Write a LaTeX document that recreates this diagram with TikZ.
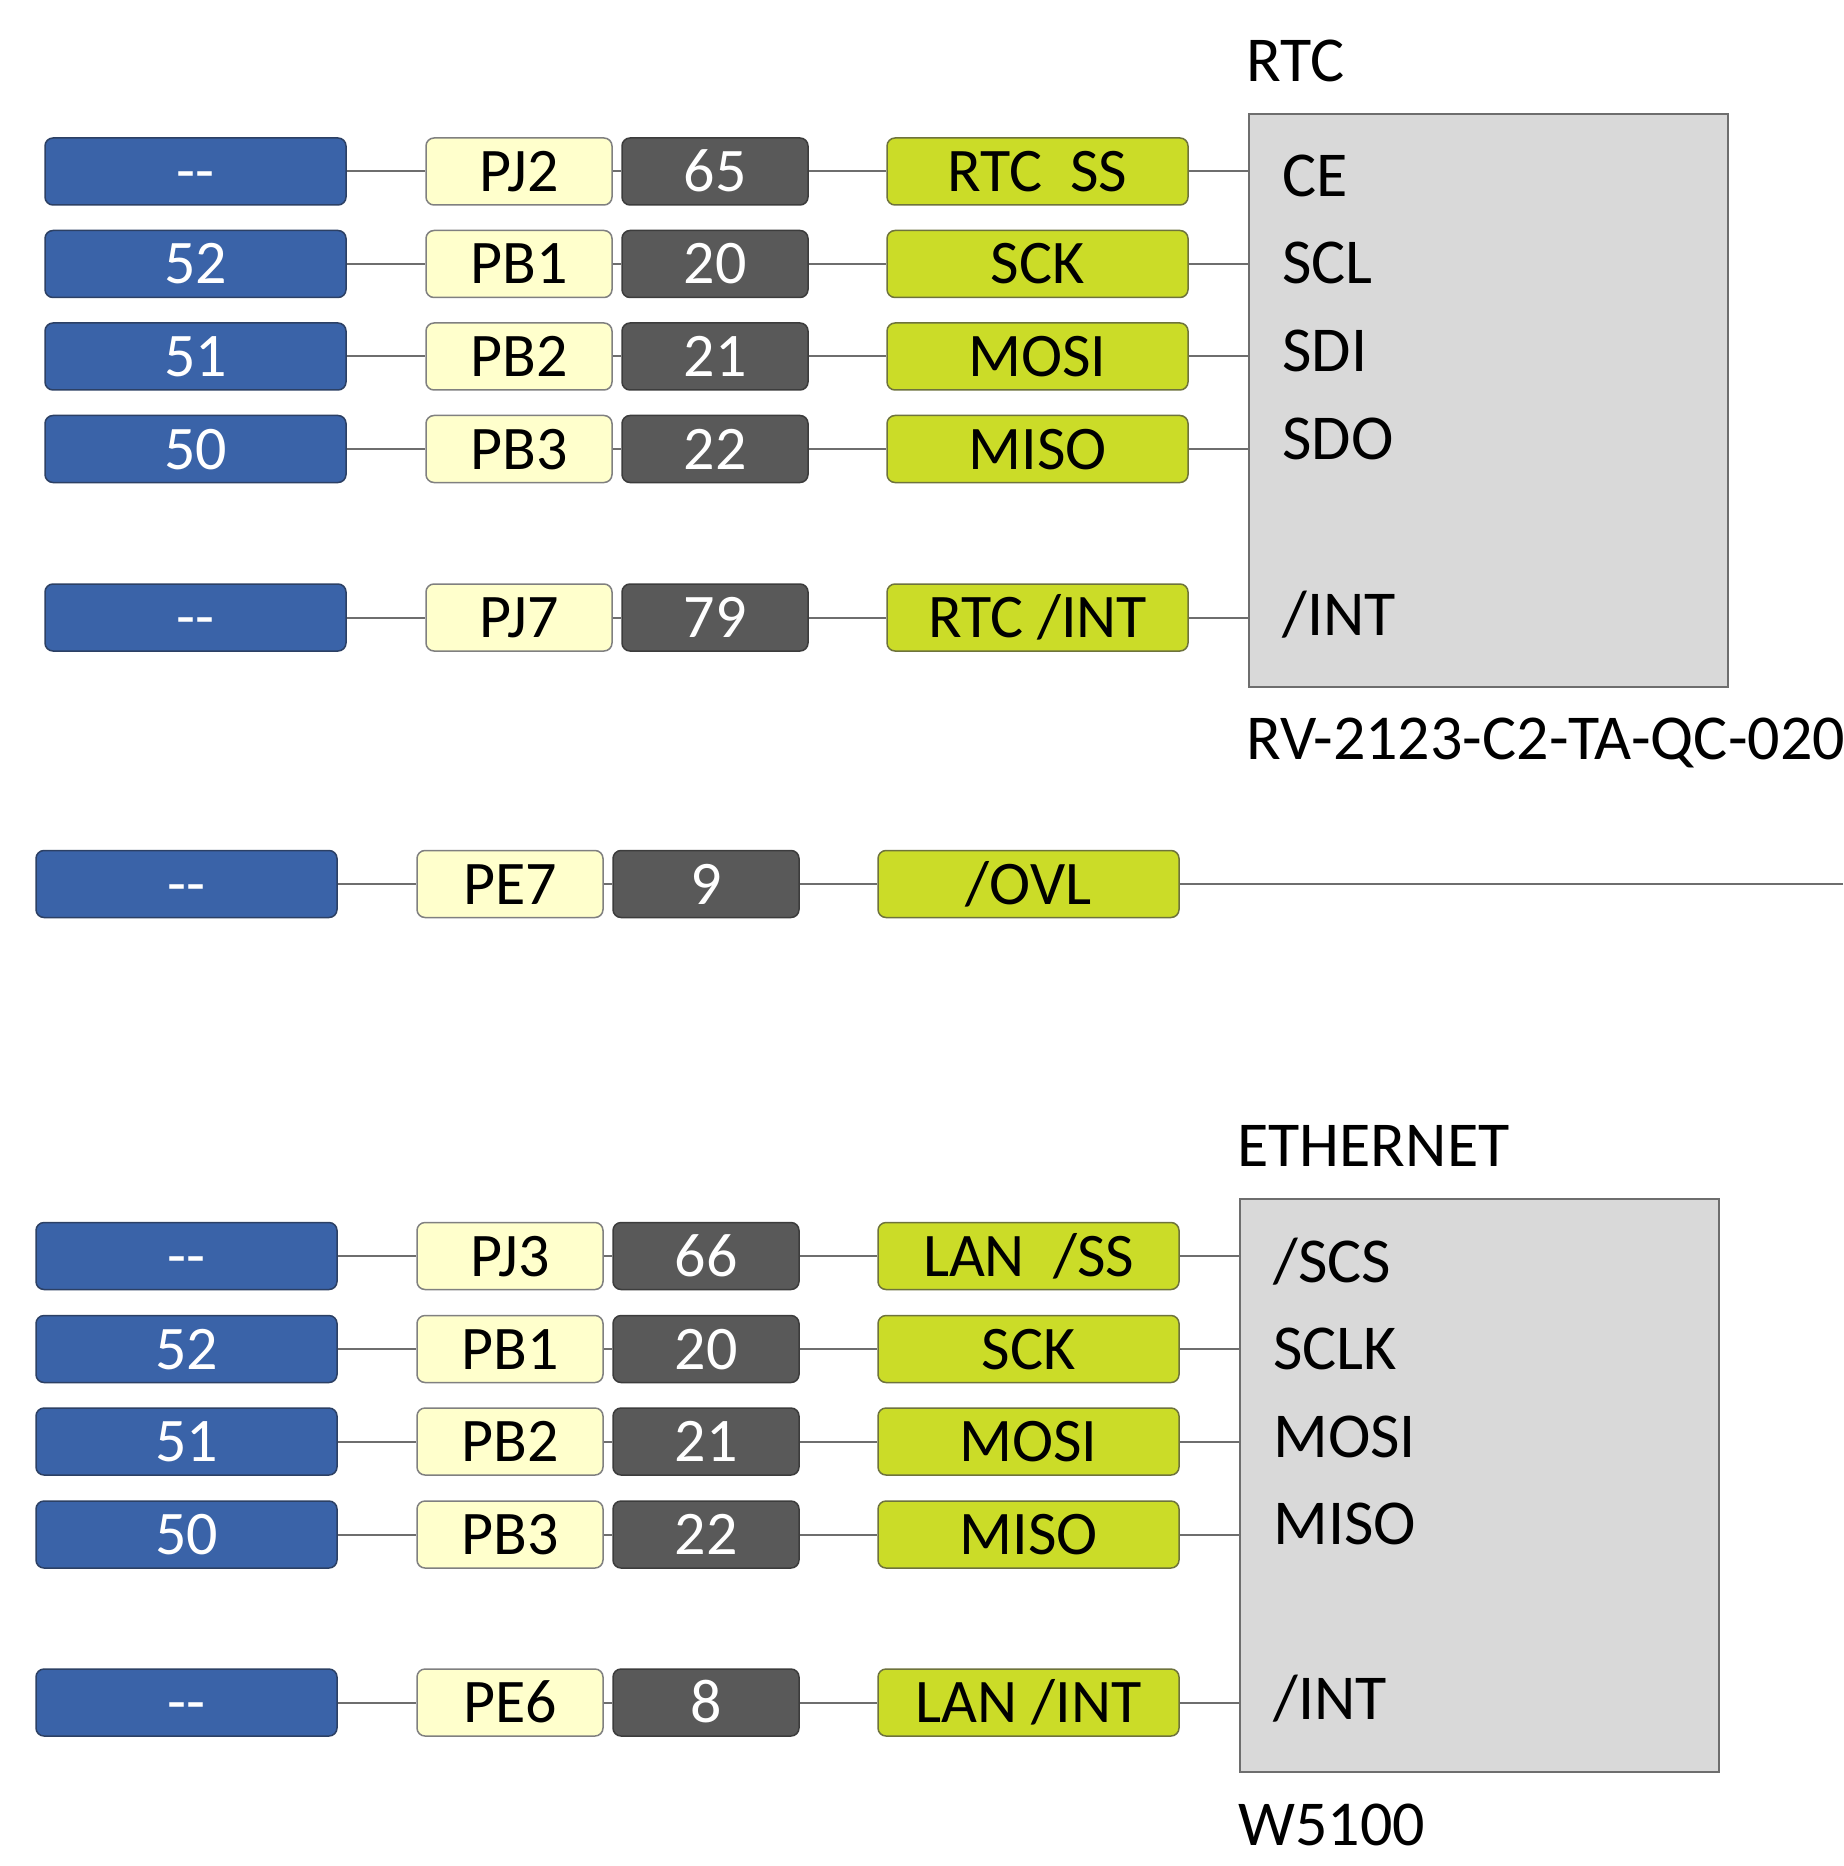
\documentclass[tikz,border=0pt]{standalone}
\usepackage{fontspec}
\setmainfont{Carlito}
\definecolor{cblue}{RGB}{58,99,168}
\definecolor{cblueb}{RGB}{44,64,100}
\definecolor{cyel}{RGB}{255,255,204}
\definecolor{cyelb}{RGB}{128,128,128}
\definecolor{cdark}{RGB}{89,89,89}
\definecolor{cdarkb}{RGB}{60,60,60}
\definecolor{cgreen}{RGB}{203,220,40}
\definecolor{cgreenb}{RGB}{110,115,60}
\definecolor{cchip}{RGB}{217,217,217}
\definecolor{cchipb}{RGB}{110,110,110}
\definecolor{cwire}{RGB}{110,110,110}
\tikzset{
  pinbox/.style={rounded corners=4pt, minimum height=33.5pt, inner sep=0pt,
    line width=0.75pt, text height=20pt, text depth=0pt,
    font=\fontsize{31}{37}\selectfont},
  bluebox/.style={pinbox, fill=cblue, draw=cblueb, text=white, minimum width=150.5pt},
  yelbox/.style={pinbox, fill=cyel, draw=cyelb, text=black, minimum width=93pt},
  darkbox/.style={pinbox, fill=cdark, draw=cdarkb, text=white, minimum width=93pt},
  greenbox/.style={pinbox, fill=cgreen, draw=cgreenb, text=black, minimum width=150.5pt},
  chipbox/.style={fill=cchip, draw=cchipb, line width=0.9pt, inner sep=0pt,
    minimum width=239.5pt, minimum height=286.5pt},
  wire/.style={draw=cwire, line width=1pt},
  lbl/.style={anchor=base west, inner sep=0pt, font=\fontsize{32}{38}\selectfont}
}
\newcommand\pinrow[8]{%
  \node[bluebox] (#1b) at (#2,#3) {#4};
  \node[yelbox] (#1y) at ({#2+323.5},#3) {#5};
  \node[darkbox] (#1d) at ({#2+519.5},#3) {#6};
  \node[greenbox] (#1g) at ({#2+842},#3) {#7};
  \draw[wire] (#1b.east) -- (#1y.west);
  \draw[wire] (#1y.east) -- (#1d.west);
  \draw[wire] (#1d.east) -- (#1g.west);
  \draw[wire] (#1g.east) -- (#1g.east -| #8);
}
\newcommand\dd{{-}{-}}
\begin{document}
\begin{tikzpicture}[x=0.5pt,y=-0.5pt]
\clip (0,0) rectangle (1843,1866);
\fill[white] (0,0) rectangle (1843,1866);
% RTC chip
\node[chipbox] (rtc) at (1488.5,400.5) {};
\node[lbl] (rtct) at (1246,82) {RTC};
\node[lbl] (rtcp) at (1246,759) {RV-2123-C2-TA-QC-020};
\node[lbl] (rtc1) at (1282,197) {CE};
\node[lbl] (rtc2) at (1282,284) {SCL};
\node[lbl] (rtc3) at (1282,372) {SDI};
\node[lbl] (rtc4) at (1282,459) {SDO};
\node[lbl] (rtc5) at (1282,635) {/INT};
% Ethernet chip
\node[chipbox] (eth) at (1479.5,1485.5) {};
\node[lbl] (etht) at (1237,1166) {ETHERNET};
\node[lbl] (ethp) at (1238,1845) {W5100};
\node[lbl] (eth1) at (1273,1282) {/SCS};
\node[lbl] (eth2) at (1273,1369) {SCLK};
\node[lbl] (eth3) at (1273,1457) {MOSI};
\node[lbl] (eth4) at (1273,1544) {MISO};
\node[lbl] (eth5) at (1273,1719) {/INT};
% RTC rows
\pinrow{ra}{195.5}{171.5}{\dd}{PJ2}{65}{RTC\ \ SS}{rtc.west}
\pinrow{rb}{195.5}{264}{52}{PB1}{20}{SCK}{rtc.west}
\pinrow{rc}{195.5}{356.5}{51}{PB2}{21}{MOSI}{rtc.west}
\pinrow{rd}{195.5}{449}{50}{PB3}{22}{MISO}{rtc.west}
\pinrow{re}{195.5}{617.5}{\dd}{PJ7}{79}{RTC /INT}{rtc.west}
% OVL row
\coordinate (ovlend) at (1843,884);
\pinrow{ov}{186.5}{884}{\dd}{PE7}{9}{/OVL}{ovlend}
% Ethernet rows
\pinrow{ea}{186.5}{1256}{\dd}{PJ3}{66}{LAN\ \ /SS}{eth.west}
\pinrow{eb}{186.5}{1349}{52}{PB1}{20}{SCK}{eth.west}
\pinrow{ec}{186.5}{1441.5}{51}{PB2}{21}{MOSI}{eth.west}
\pinrow{ed}{186.5}{1534.5}{50}{PB3}{22}{MISO}{eth.west}
\pinrow{ee}{186.5}{1702.5}{\dd}{PE6}{8}{LAN /INT}{eth.west}
\end{tikzpicture}
\end{document}
